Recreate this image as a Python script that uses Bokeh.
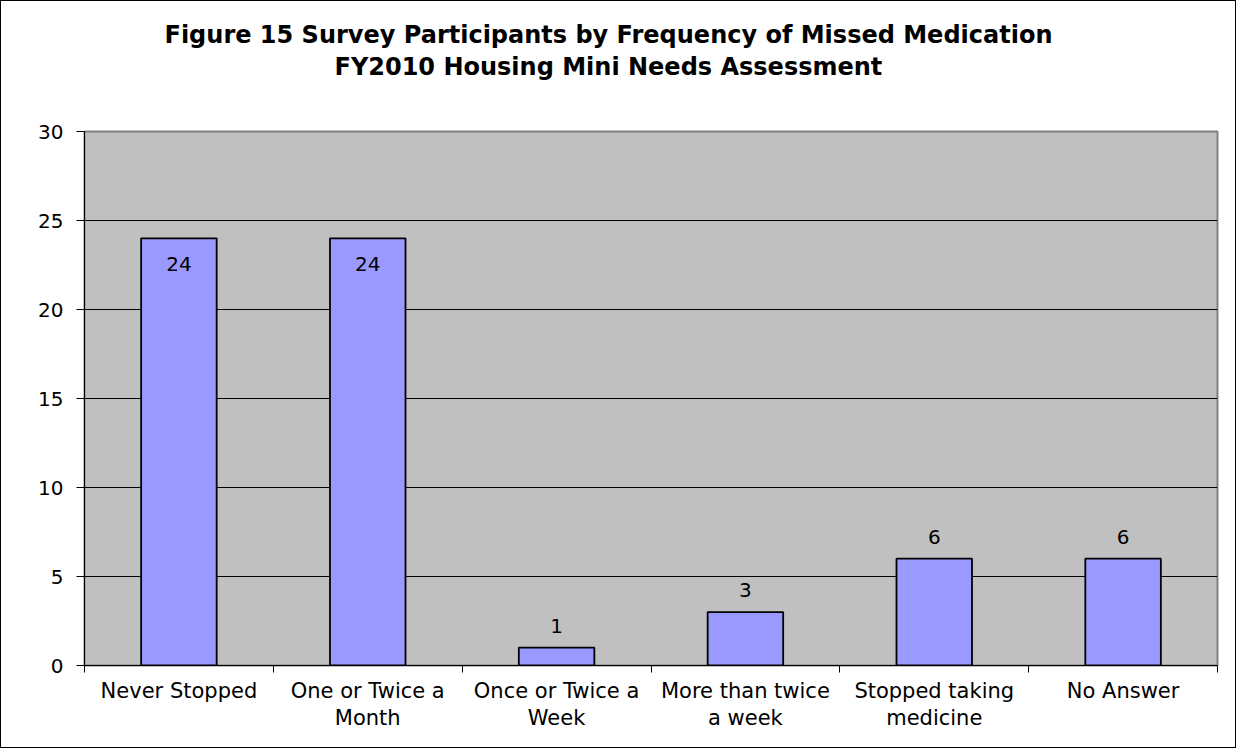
from bokeh.plotting import figure
from bokeh.models import (ColumnDataSource, Range1d, LinearAxis,
                          FixedTicker, LabelSet, Title)
from bokeh.core.properties import value
from bokeh.embed import file_html
from bokeh.resources import INLINE

title_lines = ["Figure 15 Survey Participants by Frequency of Missed Medication",
               "FY2010 Housing Mini Needs Assessment"]
categories = ["Never Stopped", "One or Twice a\nMonth", "Once or Twice a\nWeek",
              "More than twice\na week", "Stopped taking\nmedicine", "No Answer"]
values = [24, 24, 1, 3, 6, 6]
y_ticks = [0, 5, 10, 15, 20, 25, 30]

FONT = "DejaVu Sans"

n = len(categories)
centers = [i + 0.5 for i in range(n)]
offsets = [-33 if v > 20 else 15 for v in values]
source = ColumnDataSource(dict(x=centers, val=values,
                               lbl=[str(v) for v in values], off=offsets))

p = figure(width=1236, height=748, output_backend="svg", toolbar_location=None,
           x_range=Range1d(0, n), y_range=Range1d(0, 30),
           x_axis_location=None, y_axis_location=None,
           min_border_left=83, min_border_right=20, min_border_top=130,
           min_border_bottom=84)
p.styles = {"border": "1px solid black"}
p.background_fill_color = "#C0C0C0"
p.border_fill_color = "white"
p.outline_line_color = "#808080"
p.outline_line_width = 2

# titles: spacer next to the frame, then line 2, then line 1
spacer = Title(text=" ", text_font_size="1px", standoff=47)
t2 = Title(text=title_lines[1], align="left", offset=250,
           text_font=FONT, text_font_style="bold", text_font_size="24px",
           text_color="black", standoff=2)
t1 = Title(text=title_lines[0], align="left", offset=80,
           text_font=FONT, text_font_style="bold", text_font_size="24px",
           text_color="black", standoff=2)
p.add_layout(spacer, "above")
p.add_layout(t2, "above")
p.add_layout(t1, "above")

# grid
p.xgrid.visible = False
p.ygrid.ticker = FixedTicker(ticks=y_ticks[1:-1])
p.ygrid.grid_line_color = "black"
p.ygrid.grid_line_width = 1

# y axis
yax = LinearAxis(ticker=FixedTicker(ticks=y_ticks))
yax.major_tick_out = 8
yax.major_tick_in = 0
yax.minor_tick_out = 0
yax.minor_tick_in = 0
yax.axis_line_color = "black"
yax.major_tick_line_color = "black"
yax.major_label_text_font = FONT
yax.major_label_text_font_size = "20px"
yax.major_label_text_color = "black"
yax.major_label_standoff = 13
p.add_layout(yax, "left")

# x tick marks at category boundaries
edge_ticks = list(range(n + 1))
tax = LinearAxis(ticker=FixedTicker(ticks=edge_ticks))
tax.major_label_overrides = {t: "" for t in edge_ticks}
tax.major_label_text_font_size = "1px"
tax.major_label_standoff = 0
tax.major_tick_out = 7
tax.major_tick_in = 0
tax.minor_tick_out = 0
tax.minor_tick_in = 0
tax.axis_line_color = "black"
tax.major_tick_line_color = "black"
p.add_layout(tax, "below")

# category labels
cax = LinearAxis(ticker=FixedTicker(ticks=centers))
cax.major_label_overrides = {c: lab for c, lab in zip(centers, categories)}
cax.axis_line_color = None
cax.major_tick_line_color = None
cax.minor_tick_line_color = None
cax.major_tick_out = 0
cax.major_tick_in = 0
cax.minor_tick_out = 0
cax.minor_tick_in = 0
cax.major_label_text_font = FONT
cax.major_label_text_font_size = "21px"
cax.major_label_text_color = "black"
cax.major_label_standoff = 6
cax.major_label_text_line_height = 1.15
p.add_layout(cax, "below")

p.vbar(x="x", top="val", width=0.4, source=source, fill_color="#9999FF",
       line_color="black", line_width=1.8)

labels = LabelSet(x="x", y="val", text="lbl", y_offset="off", source=source,
                  text_align="center", text_baseline="alphabetic",
                  text_font=value(FONT), text_font_size=value("20px"),
                  text_color="black")
p.add_layout(labels)

open("out.html", "w").write(file_html(p, INLINE))
